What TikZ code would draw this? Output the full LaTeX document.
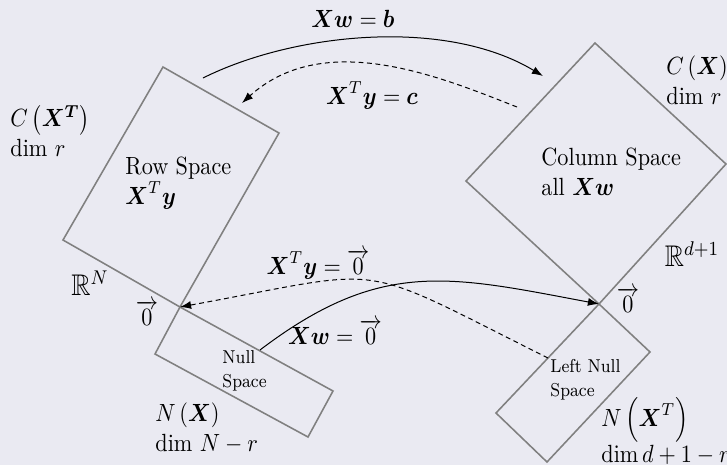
\documentclass[tikz,border=0pt]{standalone}
\usepackage{amsmath,amssymb}
\usetikzlibrary{arrows.meta}
\definecolor{bg}{HTML}{EAEAF2}
\begin{document}
\begin{tikzpicture}[x=0.45pt,y=-0.45pt,
  every node/.append style={yscale=1.12},
  space/.style={draw=black!50,line width=0.7pt},
  map/.style={-{Latex[length=5pt,width=3.6pt]},line width=0.45pt},
  backmap/.style={map,dash pattern=on 2.2pt off 1.6pt},
  lbl/.style={inner sep=0pt,align=left,anchor=west},
  small/.style={inner sep=0pt,align=left,anchor=west,font=\fontsize{7.5}{9.5}\selectfont}]
\fill[bg] (0,0) rectangle (727,465);
\path[use as bounding box] (0,0) rectangle (727,465);
% the two origins
\coordinate (o1) at (180,307);
\coordinate (o2) at (599,304);
% row space and null space
\draw[space] (o1) -- (63,240) -- (163,67) -- (279,133) -- cycle;
\draw[space] (o1) -- (333,391) -- (308,437) -- (155,354) -- cycle;
% column space and left null space
\draw[space] (o2) -- (466,181) -- (595,43) -- (726,164) -- cycle;
\draw[space] (o2) -- (650,352) -- (547,462) -- (496,413) -- cycle;
% maps
\coordinate (s1) at (203,78);
\coordinate (e1) at (543,76);
\coordinate (s2) at (517,107);
\coordinate (e2) at (242,103);
\coordinate (s3) at (548,358);
\coordinate (s4) at (260,350);
\draw[map] (s1) .. controls (293,33) and (445,17) .. (e1);
\draw[backmap] (s2) .. controls (443,78) and (325,28) .. (e2);
\draw[backmap] (s3) .. controls (350,259) and (394,268) .. (o1);
\draw[map] (s4) .. controls (381,258) and (450,276) .. (o2);
% labels
\node[inner sep=0pt] (xwb) at (353,19) {$\boldsymbol{Xw}=\boldsymbol{b}$};
\node[inner sep=0pt] (xyc) at (372,95) {$\boldsymbol{X}^T\boldsymbol{y}=\boldsymbol{c}$};
\node[inner sep=0pt] (xy0) at (318,264) {$\boldsymbol{X}^T\boldsymbol{y}=\overrightarrow{0}$};
\node[inner sep=0pt] (xw0) at (335,332) {$\boldsymbol{Xw}=\overrightarrow{0}$};
\node[lbl] (crow) at (10,131) {$C\left(\boldsymbol{X^T}\right)$\\dim $r$};
\node[lbl] (ccol) at (666,80) {$C\left(\boldsymbol{X}\right)$\\dim $r$};
\node[lbl] (row) at (125,183) {Row Space\\$\boldsymbol{X}^T\boldsymbol{y}$};
\node[lbl] (col) at (541,172) {Column Space\\all $\boldsymbol{Xw}$};
\node[inner sep=0pt,font=\large] (rn) at (90,283) {$\mathbb{R}^N$};
\node[inner sep=0pt,font=\large] (rd) at (692,254) {$\mathbb{R}^{d+1}$};
\node[inner sep=0pt] (z1) at (147,313) {$\overrightarrow{0}$};
\node[inner sep=0pt] (z2) at (628,300) {$\overrightarrow{0}$};
\node[small] (null) at (222,371) {Null\\Space};
\node[small] (lnull) at (550,380) {Left Null\\Space};
\node[lbl] (nx) at (155,428) {$N\left(\boldsymbol{X}\right)$\\dim $N-r$};
\node[lbl] (nxt) at (601,431) {$N\left(\boldsymbol{X}^T\right)$\\$\dim d+1-r$};
\end{tikzpicture}
\end{document}
